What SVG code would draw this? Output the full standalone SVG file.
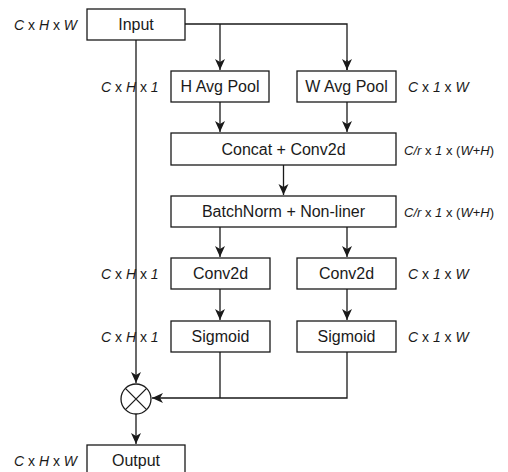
<svg xmlns="http://www.w3.org/2000/svg" width="508" height="472" viewBox="0 0 508 472">
<style>
.box{fill:#fff;stroke:#1a1a1a;stroke-width:1.3}
.t{font-family:"Liberation Sans",Arial,sans-serif;font-size:16px;fill:#1a1a1a;text-anchor:middle}
.l{font-family:"Liberation Sans",Arial,sans-serif;font-size:14px;fill:#1a1a1a}
.s{font-size:13px}
.i{font-style:italic}
.c{fill:none;stroke:#1a1a1a;stroke-width:1.3}
</style>
<defs>
<marker id="ah" markerUnits="userSpaceOnUse" markerWidth="12" markerHeight="11" refX="11" refY="5" orient="auto">
<path d="M0,0 L11,5 L0,10 L3,5 z" fill="#1a1a1a"/>
</marker>
</defs>
<rect width="508" height="472" fill="#fff"/>
<g id="connectors">
<path class="c" d="M185,24 H347 V70"/>
<path class="c" d="M220,24 V70" marker-end="url(#ah)"/>
<path class="c" d="M347,60 V70" marker-end="url(#ah)"/>
<path class="c" d="M136,40 V383" marker-end="url(#ah)"/>
<path class="c" d="M220,102 V132" marker-end="url(#ah)"/>
<path class="c" d="M347,102 V132" marker-end="url(#ah)"/>
<path class="c" d="M283.5,165 V195" marker-end="url(#ah)"/>
<path class="c" d="M220,227 V257" marker-end="url(#ah)"/>
<path class="c" d="M347,227 V257" marker-end="url(#ah)"/>
<path class="c" d="M220,289 V320" marker-end="url(#ah)"/>
<path class="c" d="M347,289 V320" marker-end="url(#ah)"/>
<path class="c" d="M220,352 V398"/>
<path class="c" d="M347,352 V398 H152" marker-end="url(#ah)"/>
<path class="c" d="M136,414 V444" marker-end="url(#ah)"/>
</g>
<g id="input"><rect class="box" x="87" y="9" width="98" height="31"/><text class="t" x="136" y="30">Input</text></g>
<g id="havgpool"><rect class="box" x="171" y="71" width="98" height="31"/><text class="t" x="220" y="92">H Avg Pool</text></g>
<g id="wavgpool"><rect class="box" x="297" y="71" width="99" height="31"/><text class="t" x="346.5" y="92">W Avg Pool</text></g>
<g id="concat"><rect class="box" x="171" y="133" width="225" height="32"/><text class="t" x="283.5" y="155">Concat + Conv2d</text></g>
<g id="batchnorm"><rect class="box" x="171" y="196" width="225" height="31"/><text class="t" x="283.5" y="217">BatchNorm + Non-liner</text></g>
<g id="conv2d-h"><rect class="box" x="171" y="258" width="99" height="31"/><text class="t" x="220.5" y="279">Conv2d</text></g>
<g id="conv2d-w"><rect class="box" x="297" y="258" width="99" height="31"/><text class="t" x="346.5" y="279">Conv2d</text></g>
<g id="sigmoid-h"><rect class="box" x="171" y="321" width="99" height="31"/><text class="t" x="220.5" y="342">Sigmoid</text></g>
<g id="sigmoid-w"><rect class="box" x="297" y="321" width="99" height="31"/><text class="t" x="346.5" y="342">Sigmoid</text></g>
<g id="multiply">
<circle cx="136" cy="399" r="15" fill="#fff" stroke="#1a1a1a" stroke-width="1.3"/>
<path d="M125.4,388.4 L146.6,409.6 M146.6,388.4 L125.4,409.6" stroke="#1a1a1a" stroke-width="1.3"/>
</g>
<g id="output"><rect class="box" x="87" y="445" width="98" height="31"/><text class="t" x="136" y="466">Output</text></g>
<g id="labels">
<text class="l" x="14" y="30"><tspan class="i">C</tspan> x <tspan class="i">H</tspan> x <tspan class="i">W</tspan></text>
<text class="l" x="101" y="92"><tspan class="i">C</tspan> x <tspan class="i">H</tspan> x <tspan class="i">1</tspan></text>
<text class="l" x="408" y="92"><tspan class="i">C</tspan> x <tspan class="i">1</tspan> x <tspan class="i">W</tspan></text>
<text class="l s" x="404" y="155"><tspan class="i">C/r</tspan> x <tspan class="i">1</tspan> x (<tspan class="i">W</tspan>+<tspan class="i">H</tspan>)</text>
<text class="l s" x="404" y="217"><tspan class="i">C/r</tspan> x <tspan class="i">1</tspan> x (<tspan class="i">W</tspan>+<tspan class="i">H</tspan>)</text>
<text class="l" x="101" y="279"><tspan class="i">C</tspan> x <tspan class="i">H</tspan> x <tspan class="i">1</tspan></text>
<text class="l" x="408" y="279"><tspan class="i">C</tspan> x <tspan class="i">1</tspan> x <tspan class="i">W</tspan></text>
<text class="l" x="101" y="342"><tspan class="i">C</tspan> x <tspan class="i">H</tspan> x <tspan class="i">1</tspan></text>
<text class="l" x="408" y="342"><tspan class="i">C</tspan> x <tspan class="i">1</tspan> x <tspan class="i">W</tspan></text>
<text class="l" x="14" y="466"><tspan class="i">C</tspan> x <tspan class="i">H</tspan> x <tspan class="i">W</tspan></text>
</g>
</svg>
